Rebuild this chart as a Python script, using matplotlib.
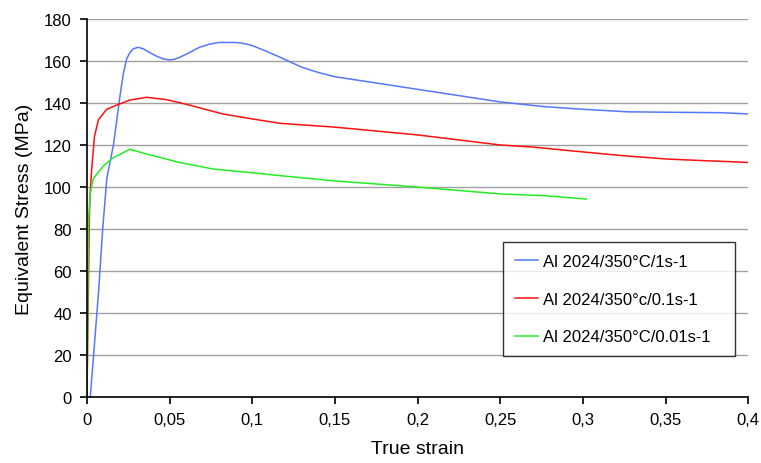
import matplotlib
matplotlib.use('Agg')
import matplotlib.pyplot as plt
from matplotlib.ticker import FixedLocator, FuncFormatter

plt.rcParams['font.family'] = ['Liberation Sans', 'DejaVu Sans']

# flow curves, Al 2024 at 350°C, three strain rates
strain_1 = [0.0, 0.002, 0.004, 0.007, 0.0095, 0.012, 0.016, 0.020, 0.022, 0.024, 0.026, 0.028,
            0.031, 0.034, 0.038, 0.042, 0.046, 0.050, 0.053, 0.056, 0.062, 0.068, 0.074, 0.080,
            0.090, 0.095, 0.100, 0.108, 0.117, 0.130, 0.140, 0.150, 0.175, 0.200, 0.225, 0.250,
            0.276, 0.300, 0.327, 0.350, 0.383, 0.400]
stress_1 = [0, 0, 20, 50, 80, 104, 120, 143.5, 154, 161, 164, 165.8, 166.5, 165.8, 164, 162.3,
            161, 160.5, 160.8, 161.7, 164, 166.5, 168, 168.8, 168.8, 168.3, 167.3, 164.8, 161.7,
            157, 154.5, 152.5, 149.5, 146.5, 143.5, 140.5, 138.3, 137, 135.8, 135.6, 135.4, 134.8]

strain_01 = [0.0, 0.001, 0.0015, 0.002, 0.0028, 0.0045, 0.0069, 0.0119, 0.018, 0.026, 0.036,
             0.048, 0.062, 0.082, 0.100, 0.117, 0.150, 0.200, 0.250, 0.270, 0.296, 0.323, 0.351,
             0.375, 0.400]
stress_01 = [0, 60, 88, 98, 108, 124, 132, 137, 139, 141.4, 142.7, 141.6, 139, 134.8, 132.4,
             130.3, 128.5, 124.8, 120, 119, 117, 115, 113.3, 112.5, 111.7]

strain_001 = [0.0, 0.0005, 0.001, 0.002, 0.0038, 0.0099, 0.016, 0.026, 0.036, 0.056, 0.076, 0.097,
              0.117, 0.150, 0.200, 0.250, 0.276, 0.302]
stress_001 = [0, 50, 85, 97, 104, 110, 114, 118, 115.7, 111.7, 108.6, 107, 105.4, 102.9,
              100, 96.7, 95.9, 94.3]

labels = ['Al 2024/350°C/1s-1', 'Al 2024/350°c/0.1s-1', 'Al 2024/350°C/0.01s-1']
colors = ['#5577ff', '#ff1010', '#22ee22']

x_ticks = [0, 0.05, 0.1, 0.15, 0.2, 0.25, 0.3, 0.35, 0.4]
y_ticks = list(range(0, 181, 20))

fig = plt.figure(figsize=(7.61, 4.64), dpi=100)
ax = fig.add_axes([0.1143, 0.142, 0.869, 0.815])

ax.plot(strain_1, stress_1, color=colors[0], lw=1.1, label=labels[0])
ax.plot(strain_01, stress_01, color=colors[1], lw=1.1, label=labels[1])
ax.plot(strain_001, stress_001, color=colors[2], lw=1.1, label=labels[2])

ax.set_xlim(0, 0.4)
ax.set_ylim(0, 180)
ax.xaxis.set_major_locator(FixedLocator(x_ticks))
ax.yaxis.set_major_locator(FixedLocator(y_ticks))
# comma as decimal separator
ax.xaxis.set_major_formatter(FuncFormatter(lambda v, p: ('%g' % round(v, 2)).replace('.', ',')))

ax.grid(axis='y', color='#a0a0a0', lw=1.0)
ax.set_axisbelow(True)
for s in ['top', 'right']:
    ax.spines[s].set_visible(False)
for s in ['left', 'bottom']:
    ax.spines[s].set_linewidth(1.2)
ax.tick_params(direction='out', length=5, width=1.2, labelsize=12, pad=6)

ax.set_xlabel('True strain', fontsize=14, labelpad=9)
ax.set_ylabel('Equivalent Stress (MPa)', fontsize=14, labelpad=8)

leg = ax.legend(loc='lower left', bbox_to_anchor=(0.629, 0.108, 0.351, 0.305), mode='expand',
                borderaxespad=0, fontsize=12, frameon=True, fancybox=False, edgecolor='black',
                handlelength=1.4, handletextpad=0.3, labelspacing=1.36, borderpad=0.71)
leg.get_frame().set_linewidth(1.0)

fig.savefig('out.png', dpi=100)
